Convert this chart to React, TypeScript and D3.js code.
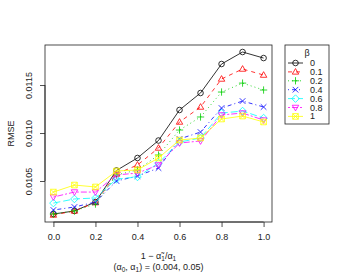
import * as d3 from 'd3';
import React, { useEffect, useRef } from 'react';

const ratios = [0, 0.1, 0.2, 0.3, 0.4, 0.5, 0.6, 0.7, 0.8, 0.9, 1.0];
const betaLabels = ['0', '0.1', '0.2', '0.4', '0.6', '0.8', '1'];

const rmseBeta0 = [0.010156, 0.010188, 0.010281, 0.010610, 0.010740, 0.010922, 0.011240, 0.011417, 0.011719, 0.011844, 0.011781];
const rmseBeta01 = [0.010146, 0.010188, 0.010275, 0.010573, 0.010667, 0.010844, 0.011115, 0.011271, 0.011563, 0.011667, 0.011604];
const rmseBeta02 = [0.010156, 0.010188, 0.010260, 0.010563, 0.010615, 0.010771, 0.011031, 0.011167, 0.011427, 0.011520, 0.011448];
const rmseBeta04 = [0.010198, 0.010229, 0.010281, 0.010500, 0.010552, 0.010635, 0.010938, 0.011010, 0.011260, 0.011333, 0.011271];
const rmseBeta06 = [0.010270, 0.010313, 0.010323, 0.010520, 0.010542, 0.010687, 0.010906, 0.010948, 0.011208, 0.011229, 0.011156];
const rmseBeta08 = [0.010333, 0.010385, 0.010385, 0.010563, 0.010583, 0.010667, 0.010896, 0.010917, 0.011188, 0.011208, 0.011135];
const rmseBeta1 = [0.010385, 0.010458, 0.010438, 0.010604, 0.010615, 0.010740, 0.010927, 0.010948, 0.011146, 0.011177, 0.011115];

const xTicks = [0, 0.2, 0.4, 0.6, 0.8, 1.0];
const yTicks = [0.0105, 0.011, 0.0115];

const colors = ['#000000', '#ff0000', '#00cd00', '#0000ff', '#00ffff', '#ff00ff', '#ffff00'];
const dashes = ['', '4,4', '1,3', '1,3,4,3', '7,3', '2,2,6,2', ''];
const shapes = ['circle', 'triangle', 'plus', 'cross', 'diamond', 'triangleDown', 'boxX'];

const FONT = '"Liberation Sans", Arial, Helvetica, sans-serif';
const LW = 0.8;

function symbolPath(shape: string, cx: number, cy: number): string {
  const r = 2.8;
  switch (shape) {
    case 'circle':
      return `M${cx - r},${cy}a${r},${r} 0 1,0 ${2 * r},0a${r},${r} 0 1,0 ${-2 * r},0Z`;
    case 'triangle':
      return `M${cx},${cy - r * 1.2}L${cx + r * 1.15},${cy + r * 0.8}L${cx - r * 1.15},${cy + r * 0.8}Z`;
    case 'triangleDown':
      return `M${cx},${cy + r * 1.2}L${cx + r * 1.15},${cy - r * 0.8}L${cx - r * 1.15},${cy - r * 0.8}Z`;
    case 'plus':
      return `M${cx - r * 1.3},${cy}H${cx + r * 1.3}M${cx},${cy - r * 1.3}V${cy + r * 1.3}`;
    case 'cross':
      return `M${cx - r},${cy - r}L${cx + r},${cy + r}M${cx - r},${cy + r}L${cx + r},${cy - r}`;
    case 'diamond':
      return `M${cx},${cy - r * 1.35}L${cx + r * 1.35},${cy}L${cx},${cy + r * 1.35}L${cx - r * 1.35},${cy}Z`;
    default:
      return `M${cx - r},${cy - r}H${cx + r}V${cy + r}H${cx - r}ZM${cx - r},${cy - r}L${cx + r},${cy + r}M${cx - r},${cy + r}L${cx + r},${cy - r}`;
  }
}

export default function App() {
  const ref = useRef<SVGSVGElement>(null);

  useEffect(() => {
    const series = [rmseBeta0, rmseBeta01, rmseBeta02, rmseBeta04, rmseBeta06, rmseBeta08, rmseBeta1];
    const svg = d3.select(ref.current);
    svg.selectAll('*').remove();

    const left = 45;
    const right = 272;
    const top = 45;
    const bottom = 222;

    const xScale = d3.scaleLinear().domain([-0.04, 1.04]).range([left, right]);
    const yScale = d3.scaleLinear().domain([0.010073, 0.011917]).range([bottom, top]);

    // plot box
    svg
      .append('rect')
      .attr('x', left)
      .attr('y', top)
      .attr('width', right - left)
      .attr('height', bottom - top)
      .attr('fill', 'none')
      .attr('stroke', '#222')
      .attr('stroke-width', LW);

    const xAxis = svg
      .append('g')
      .attr('transform', `translate(0,${bottom})`)
      .call(d3.axisBottom(xScale).tickValues(xTicks).tickFormat(d3.format('.1f')).tickSize(5).tickPadding(7));
    xAxis.select('.domain').attr('d', `M${xScale(0)},0H${xScale(1)}`).attr('stroke', '#222').attr('stroke-width', LW);
    xAxis.selectAll('line').attr('stroke', '#222').attr('stroke-width', LW);
    xAxis.selectAll('text').attr('font-family', FONT).attr('font-size', 9).attr('fill', '#222');

    const yAxis = svg
      .append('g')
      .attr('transform', `translate(${left},0)`)
      .call(d3.axisLeft(yScale).tickValues(yTicks).tickFormat(d3.format('.4f')).tickSize(5));
    yAxis.select('.domain').attr('d', `M0,${yScale(0.0105)}V${yScale(0.0115)}`).attr('stroke', '#222').attr('stroke-width', LW);
    yAxis.selectAll('line').attr('stroke', '#222').attr('stroke-width', LW);
    yAxis
      .selectAll('text')
      .attr('font-family', FONT)
      .attr('font-size', 9)
      .attr('fill', '#222')
      .attr('text-anchor', 'middle')
      .attr('x', 0)
      .attr('dy', 0)
      .attr('transform', 'translate(-16,0) rotate(-90)')
      .attr('dominant-baseline', 'central');

    svg
      .append('text')
      .attr('transform', `translate(11,${(top + bottom) / 2}) rotate(-90)`)
      .attr('text-anchor', 'middle')
      .attr('dominant-baseline', 'central')
      .attr('font-family', FONT)
      .attr('font-size', 9)
      .attr('fill', '#222')
      .text('RMSE');

    const line = d3
      .line<number>()
      .x((_, i) => xScale(ratios[i]))
      .y((d) => yScale(d));

    series.forEach((values, k) => {
      const g = svg.append('g');
      g.append('path')
        .attr('d', line(values))
        .attr('fill', 'none')
        .attr('stroke', colors[k])
        .attr('stroke-width', LW)
        .attr('stroke-dasharray', dashes[k] || null);
      g.selectAll('path.pt')
        .data(values)
        .join('path')
        .attr('class', 'pt')
        .attr('d', (d, i) => symbolPath(shapes[k], xScale(ratios[i]), yScale(d)))
        .attr('fill', 'none')
        .attr('stroke', colors[k])
        .attr('stroke-width', LW);
    });

    // x label
    const xl = svg
      .append('text')
      .attr('x', xScale(0.5))
      .attr('y', 259)
      .attr('text-anchor', 'middle')
      .attr('font-family', FONT)
      .attr('font-size', 9)
      .attr('fill', '#222');
    xl.append('tspan').text('1 \u2212 \u03b1\u0303');
    xl.append('tspan').attr('font-size', 6.5).attr('dy', 2).text('1');
    xl.append('tspan').attr('dy', -2).text('/\u03b1');
    xl.append('tspan').attr('font-size', 6.5).attr('dy', 2).text('1');

    const xl2 = svg
      .append('text')
      .attr('x', xScale(0.5))
      .attr('y', 270)
      .attr('text-anchor', 'middle')
      .attr('font-family', FONT)
      .attr('font-size', 9)
      .attr('fill', '#222');
    xl2.append('tspan').text('(\u03b1');
    xl2.append('tspan').attr('font-size', 6.5).attr('dy', 2).text('0');
    xl2.append('tspan').attr('dy', -2).text(', \u03b1');
    xl2.append('tspan').attr('font-size', 6.5).attr('dy', 2).text('1');
    xl2.append('tspan').attr('dy', -2).text(') = (0.004, 0.05)');

    // legend
    const lg = svg.append('g');
    lg.append('rect')
      .attr('x', 285)
      .attr('y', 45)
      .attr('width', 44)
      .attr('height', 79)
      .attr('fill', '#fff')
      .attr('stroke', '#222')
      .attr('stroke-width', LW);
    lg.append('text')
      .attr('x', 307)
      .attr('y', 53)
      .attr('text-anchor', 'middle')
      .attr('dominant-baseline', 'central')
      .attr('font-family', FONT)
      .attr('font-size', 9)
      .attr('fill', '#222')
      .text('\u03b2');
    betaLabels.forEach((label, k) => {
      const y = 63 + k * 8.9;
      lg.append('line')
        .attr('x1', 288)
        .attr('x2', 303)
        .attr('y1', y)
        .attr('y2', y)
        .attr('stroke', colors[k])
        .attr('stroke-width', LW)
        .attr('stroke-dasharray', dashes[k] || null);
      lg.append('path')
        .attr('d', symbolPath(shapes[k], 295.5, y))
        .attr('fill', 'none')
        .attr('stroke', colors[k])
        .attr('stroke-width', LW);
      lg.append('text')
        .attr('x', 310)
        .attr('y', y)
        .attr('dominant-baseline', 'central')
        .attr('font-family', FONT)
        .attr('font-size', 9)
        .attr('fill', '#222')
        .text(label);
    });
  }, []);

  return (
    <svg
      ref={ref}
      width={362}
      height={278}
      style={{ position: 'absolute', left: 0, top: 0, background: '#fff' }}
    ></svg>
  );
}
